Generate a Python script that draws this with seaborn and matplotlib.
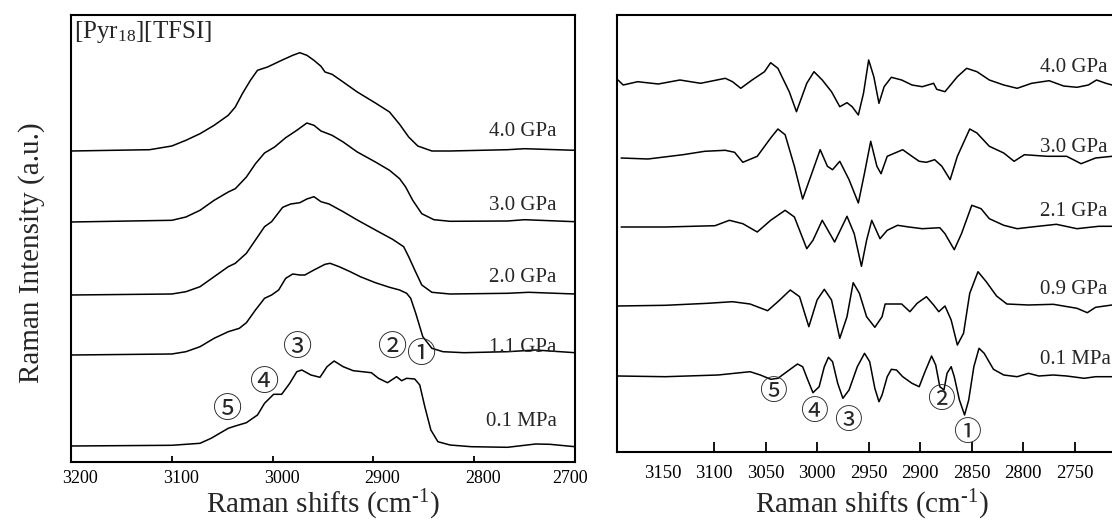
import numpy as np
import pandas as pd
import matplotlib
matplotlib.use('Agg')
import matplotlib.pyplot as plt
import matplotlib.transforms as mtransforms
import seaborn as sns

# ---- left panel: Raman spectra (intensity above each baseline) ----
raw_labels = ['0.1 MPa', '1.1 GPa', '2.0 GPa', '3.0 GPa', '4.0 GPa']
raw_offsets = [16, 107, 167, 240, 311]

raw_x_01MPa = [3200, 3100, 3072, 3061, 3044, 3037, 3026, 3015, 3008, 2999, 2991, 2983, 2976, 2971, 2962,
               2953, 2946, 2939, 2930, 2920, 2902, 2895, 2886, 2877, 2872, 2867, 2859, 2854, 2849, 2843,
               2836, 2824, 2803, 2767, 2739, 2725, 2700]
raw_y_01MPa = [0, 0.7, 2.7, 7.7, 17.7, 20, 23.3, 31, 42.7, 51.7, 51.7, 62.7, 74.3, 76, 71,
               68.7, 79.3, 85, 79.3, 75.3, 73.3, 67.7, 63.3, 69.3, 65.3, 67.7, 67, 61, 39.3, 16,
               4.3, 1, -0.7, -1.3, 2, 1.7, -0.7]

raw_x_11GPa = [3200, 3100, 3086, 3072, 3058, 3044, 3033, 3026, 3017, 3008, 3001, 2994, 2987, 2980, 2973,
               2968, 2959, 2948, 2943, 2934, 2923, 2913, 2898, 2884, 2874, 2867, 2863, 2858, 2851, 2842,
               2831, 2810, 2767, 2739, 2725, 2700]
raw_y_11GPa = [0, 1, 3.3, 8.3, 16.7, 23.3, 26.7, 32.3, 45, 56.7, 60, 65, 76.7, 81, 80,
               80, 85, 90.7, 91.7, 88.3, 83.3, 78.3, 72.3, 67.7, 65, 61.7, 56.7, 41.7, 18.3, 6.7,
               3.3, 2.3, 3.3, 5, 4, 2.3]

raw_x_20GPa = [3200, 3100, 3086, 3072, 3058, 3044, 3037, 3026, 3017, 3008, 3001, 2990, 2982, 2973, 2966,
               2959, 2952, 2944, 2930, 2916, 2898, 2881, 2870, 2865, 2859, 2852, 2842, 2824, 2767, 2746, 2700]
raw_y_20GPa = [0, 1, 3.3, 8.3, 18.3, 28.3, 31.7, 41.7, 55, 68.3, 73.3, 87.7, 91, 92.3, 96,
               98.3, 93.3, 91, 83.3, 75, 65, 55.7, 48.3, 38.3, 25, 10, 2.7, 1, 1.7, 2.7, 1]

raw_x_30GPa = [3200, 3100, 3086, 3072, 3058, 3044, 3037, 3026, 3017, 3008, 2998, 2987, 2976, 2966, 2959,
               2952, 2941, 2930, 2916, 2898, 2884, 2874, 2868, 2861, 2852, 2840, 2824, 2767, 2750, 2700]
raw_y_30GPa = [0, 1.7, 5, 11.7, 21.7, 30, 33.3, 45, 58.3, 69, 75, 84.3, 91.7, 99, 96.7,
               91, 86.7, 80, 70, 60, 51.7, 43.3, 35, 21.7, 8.3, 2.3, 0.7, 1, 2.3, 0.3]

raw_x_40GPa = [3200, 3122, 3100, 3086, 3072, 3058, 3044, 3037, 3030, 3022, 3015, 3005, 2991, 2980, 2973,
               2966, 2959, 2952, 2948, 2941, 2930, 2916, 2898, 2884, 2874, 2865, 2856, 2842, 2824, 2767,
               2750, 2700]
raw_y_40GPa = [0, 1.3, 5, 10.7, 17.3, 25.7, 35.7, 44, 57.3, 70.7, 80.7, 84, 90.7, 95.7, 98.3,
               95.7, 90.7, 84.7, 79, 76.7, 69, 59, 48, 39, 26.7, 14, 5, 0, 0, 1.3,
               2.3, 0.7]

# ---- right panel: second derivative spectra ----
der_labels = ['0.1 MPa', '0.9 GPa', '2.1 GPa', '3.0 GPa', '4.0 GPa']
der_offsets = [76, 146, 225, 294, 367]

der_x_01MPa = [3193, 3147, 3096, 3065, 3055, 3045, 3038, 3027, 3019, 3014, 3009, 3004, 2998, 2993, 2989,
               2985, 2980, 2975, 2969, 2961, 2954, 2949, 2944, 2940, 2937, 2932, 2928, 2923, 2917, 2908,
               2901, 2896, 2889, 2885, 2881, 2877, 2874, 2870, 2867, 2862, 2857, 2853, 2848, 2843, 2838,
               2829, 2819, 2806, 2795, 2785, 2771, 2758, 2741, 2730, 2714]
der_y_01MPa = [0, -0.7, 1, 4.3, 1, -3.3, -2.3, 6, 12, 9.3, -4, -16.7, -10.7, 9.3, 18.7,
               14.3, -7.3, -22.3, -14, 9.3, 22.7, 14.3, -12.3, -25.7, -19, -0.7, 6.7, 6, -0.7, -7.3,
               -10.7, 2.7, 20, 11, -10.7, -14, 2.7, 9.3, -0.7, -24, -39, -24, 9.3, 27.7, 22.7,
               6.7, 1, -0.7, 2.7, 0, 1, 0, -2.3, -0.7, -0.7]

der_x_09GPa = [3193, 3147, 3106, 3082, 3065, 3048, 3038, 3026, 3017, 3008, 3000, 2993, 2986, 2978, 2971,
               2965, 2959, 2952, 2944, 2937, 2934, 2918, 2910, 2903, 2894, 2887, 2882, 2876, 2870, 2864,
               2858, 2852, 2844, 2836, 2826, 2816, 2795, 2771, 2748, 2738, 2730, 2714]
der_y_09GPa = [0, 0.7, 2.7, 4.3, 2, -4.7, 4.3, 16, 9.3, -20.7, 6, 16.7, 6, -32.3, -10.7,
               23.3, 12.7, -10.7, -21.3, -10.7, 2, 2, -5.7, 2.7, 9.3, 1, -5.7, 0, -14, -39,
               -27.3, 12.7, 34.3, 24.3, 10, 2, 1, 1.7, -2.3, -6.7, -1.3, 1]

der_x_21GPa = [3190, 3147, 3099, 3085, 3072, 3058, 3045, 3031, 3022, 3010, 3004, 2995, 2983, 2971, 2964,
               2957, 2952, 2947, 2939, 2932, 2922, 2911, 2898, 2881, 2876, 2867, 2860, 2850, 2841, 2833,
               2819, 2806, 2792, 2768, 2748, 2727, 2714]
der_y_21GPa = [0, 0, 1.3, 6.7, 3.3, -5, 6.7, 16.7, 10, -21.7, -13.3, 6.7, -15, 10.7, -6.7,
               -39.3, -13.3, 6.7, -11.7, -3.3, 1.7, 0, -1.7, -0.7, -6.7, -22.7, -6.7, 21.7, 18.3, 8.3,
               1.7, -1.7, 0, 2.7, -1.7, 0.7, 0.7]

der_x_30GPa = [3190, 3164, 3130, 3109, 3089, 3080, 3072, 3058, 3045, 3038, 3031, 3022, 3014, 3005, 2997,
               2990, 2985, 2978, 2969, 2960, 2954, 2948, 2942, 2938, 2932, 2917, 2908, 2901, 2894, 2886,
               2879, 2871, 2864, 2852, 2845, 2833, 2819, 2809, 2799, 2777, 2758, 2744, 2730, 2714]
der_y_30GPa = [0, -1, 3.3, 6.7, 7.7, 5.7, -4.3, 1.7, 20, 29, 23.3, -8.3, -41, -15, 8.3,
               -8.3, -11.7, -3.3, -21.7, -45, -15, 16.7, -8.3, -15.7, 1.7, 8.3, 1.7, -3.3, -4.3, -1.7,
               -8.3, -21.7, 1.7, 29, 25, 11.7, 5, -3.3, 3.3, 1.7, 1.7, -5.7, 0, 1.7]

der_x_40GPa = [3193, 3188, 3174, 3154, 3133, 3113, 3089, 3082, 3074, 3063, 3051, 3045, 3038, 3027, 3020,
               3010, 3003, 2995, 2986, 2978, 2971, 2966, 2960, 2955, 2950, 2945, 2940, 2935, 2928, 2918,
               2908, 2898, 2887, 2884, 2876, 2864, 2855, 2845, 2833, 2819, 2806, 2792, 2775, 2761, 2748,
               2737, 2729, 2720, 2714]
der_y_40GPa = [5, 0, 3.3, 1, 5, 1.7, 6.7, 3.3, -3.3, 5, 13.3, 22.3, 16.7, -6.7, -26.7,
               1.7, 13.3, 5, -6.7, -21.7, -17.7, -21.7, -30, -8.3, 25, 8.3, -18.3, -1.7, 7.7, 5,
               0, -1.7, 1.7, -4.3, -6.7, 8.3, 16.7, 13.3, 5, 0, -3.3, 1.7, 4.3, -1, -2.3,
               0, 5, 1.7, 0]

raw_xs = [raw_x_01MPa, raw_x_11GPa, raw_x_20GPa, raw_x_30GPa, raw_x_40GPa]
raw_ys = [raw_y_01MPa, raw_y_11GPa, raw_y_20GPa, raw_y_30GPa, raw_y_40GPa]
der_xs = [der_x_01MPa, der_x_09GPa, der_x_21GPa, der_x_30GPa, der_x_40GPa]
der_ys = [der_y_01MPa, der_y_09GPa, der_y_21GPa, der_y_30GPa, der_y_40GPa]

raw_df = pd.concat([pd.DataFrame({'shift': x, 'intensity': np.array(y) + off, 'pressure': lab})
                    for x, y, off, lab in zip(raw_xs, raw_ys, raw_offsets, raw_labels)])
der_df = pd.concat([pd.DataFrame({'shift': x, 'intensity': np.array(y) + off, 'pressure': lab})
                    for x, y, off, lab in zip(der_xs, der_ys, der_offsets, der_labels)])

# label / marker positions
raw_label_y = [40, 114, 184, 257, 330]
der_label_y = [92, 162, 241, 304, 384]
raw_marks = [('⑤', 3045, 52), ('④', 3008, 79), ('③', 2975, 114), ('②', 2881, 114), ('①', 2852, 107)]
der_marks = [('⑤', 3043, 60), ('④', 3003, 40), ('③', 2970, 31), ('②', 2880, 52), ('①', 2855, 19)]

sns.set_theme(style='white')
plt.rcParams['font.family'] = ['Liberation Serif', 'DejaVu Serif']
plt.rcParams['mathtext.fontset'] = 'custom'
plt.rcParams['mathtext.rm'] = 'Liberation Serif'
plt.rcParams['mathtext.it'] = 'Liberation Serif:italic'
plt.rcParams['mathtext.bf'] = 'Liberation Serif:bold'

fig = plt.figure(figsize=(11.12, 5.22), dpi=100)
ax1 = fig.add_axes([71 / 1112, 1 - 462 / 522, 504 / 1112, 447 / 522])
ax2 = fig.add_axes([617 / 1112, 1 - 452 / 522, 509.5 / 1112, 437 / 522])

sns.lineplot(data=raw_df, x='shift', y='intensity', units='pressure', estimator=None,
             color='black', lw=1.1, ax=ax1, legend=False)
sns.lineplot(data=der_df, x='shift', y='intensity', units='pressure', estimator=None,
             color='black', lw=1.1, ax=ax2, legend=False)

xlabel = r'Raman shifts (cm$^{\text{-1}}$)'

# left panel
ax1.set_xlim(3200, 2700)
ax1.set_ylim(0, 447)
ax1.set_xticks([3200, 3100, 3000, 2900, 2800, 2700])
ax1.set_yticks([])
ax1.tick_params(axis='x', direction='in', length=4, width=1.3, labelsize=13, pad=6,
                bottom=True, colors='black')
ax1.set_xlabel(xlabel, fontsize=21)
ax1.xaxis.set_label_coords(0.5, -0.058)
ax1.set_ylabel('Raman Intensity (a.u.)', fontsize=21)
ax1.yaxis.set_label_coords(-0.052, 0.468)
ax1.text(0.005, 0.99, '[Pyr$_{18}$][TFSI]', transform=ax1.transAxes, ha='left', va='top', fontsize=18)
for lab, yv in zip(raw_labels, raw_label_y):
    ax1.text(2718, yv, lab, ha='right', va='center', fontsize=15)
for sym, xv, yv in raw_marks:
    ax1.text(xv, yv, sym, ha='center', va='center', fontsize=21, family=['Noto Sans CJK JP'])

# right panel
ax2.set_xlim(3194, 2700)
ax2.set_ylim(0, 437)
ax2.set_xticks([3150, 3100, 3050, 3000, 2950, 2900, 2850, 2800, 2750])
ax2.set_yticks([])
ax2.tick_params(axis='x', direction='in', length=7, width=1.3, labelsize=13.5, pad=9,
                bottom=True, colors='black')
ax2.xaxis.get_major_ticks()[0].tick1line.set_visible(False)
ax2.set_xlabel(xlabel, fontsize=21)
ax2.xaxis.set_label_coords(0.5, -0.082)
ax2.set_ylabel('')
for lab, yv in zip(der_labels, der_label_y):
    ax2.text(2784, yv, lab, ha='left', va='center', fontsize=15)
for sym, xv, yv in der_marks:
    ax2.text(xv, yv, sym, ha='center', va='center', fontsize=20, family=['Noto Sans CJK JP'])

for ax in (ax1, ax2):
    for sp in ax.spines.values():
        sp.set_color('black')
        sp.set_linewidth(1.5)

# tick labels in the left panel sit a little right of their ticks
label_shift_px = [9, 9, 9, 9, 9, -5]
for lab, off in zip(ax1.get_xticklabels(), label_shift_px):
    lab.set_transform(lab.get_transform() + mtransforms.ScaledTranslation(off / 100, 0, fig.dpi_scale_trans))

fig.savefig('out.png', dpi=100)
